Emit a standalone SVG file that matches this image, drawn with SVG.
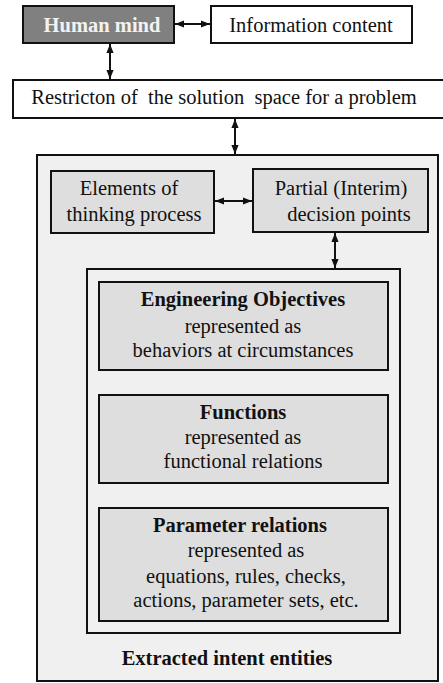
<svg xmlns="http://www.w3.org/2000/svg" width="443" height="683" viewBox="0 0 443 683">
  <style>
    text { font-family: 'Liberation Serif', 'DejaVu Serif', serif; font-size: 20.5px; fill: #111; text-anchor: middle; }
    .b { font-weight: bold; }
    .box { stroke: #111; stroke-width: 2; }
    .white { fill: #ffffff; }
    .dark { fill: #808080; }
    .panel { fill: #f0f0f0; }
    .cell { fill: #dedede; }
    .conn { stroke: #111; stroke-width: 2; fill: none; marker-start: url(#ah); marker-end: url(#ah); }
  </style>
  <defs>
    <marker id="ah" viewBox="0 0 10 8" refX="10" refY="4" markerWidth="4.5" markerHeight="3.6" orient="auto-start-reverse">
      <path d="M0,0 L10,4 L0,8 Z" fill="#111"/>
    </marker>
  </defs>

  <rect width="443" height="683" fill="#ffffff"/>

  <g font-family="Liberation Serif, serif">
  <g id="human-mind">
    <rect class="box dark" x="23" y="6" width="151" height="37"/>
    <text class="b" x="102" y="32" style="fill:#f2f2f2">Human mind</text>
  </g>

  <g id="information-content">
    <rect class="box white" x="211" y="6" width="201" height="37"/>
    <text x="311" y="32">Information content</text>
  </g>

  <g id="restriction">
    <rect class="box white" x="13" y="80" width="440" height="38"/>
    <text x="224" y="104" xml:space="preserve">Restricton of  the solution  space for a problem</text>
  </g>

  <g id="extracted-intent-entities">
    <rect class="box panel" x="37" y="155" width="401" height="526"/>
    <text class="b" x="227" y="665">Extracted intent entities</text>
  </g>

  <g id="elements-of-thinking">
    <rect class="box cell" x="51" y="171" width="163" height="62"/>
    <text x="129" y="195">Elements of</text>
    <text x="134" y="221">thinking process</text>
  </g>

  <g id="decision-points">
    <rect class="box cell" x="253" y="169" width="175" height="63"/>
    <text x="341" y="195">Partial (Interim)</text>
    <text x="349" y="221">decision points</text>
  </g>

  <g id="intent-container">
    <rect class="box panel" x="87" y="269" width="313" height="364"/>
  </g>

  <g id="engineering-objectives">
    <rect class="box cell" x="99" y="282" width="289" height="88"/>
    <text class="b" x="243" y="306">Engineering Objectives</text>
    <text x="243" y="333">represented as</text>
    <text x="243" y="357">behaviors at circumstances</text>
  </g>

  <g id="functions">
    <rect class="box cell" x="99" y="395" width="289" height="88"/>
    <text class="b" x="243" y="419">Functions</text>
    <text x="243" y="444">represented as</text>
    <text x="243" y="468">functional relations</text>
  </g>

  <g id="parameter-relations">
    <rect class="box cell" x="99" y="508" width="289" height="113"/>
    <text class="b" x="240" y="532">Parameter relations</text>
    <text x="246" y="557">represented as</text>
    <text x="246" y="583">equations, rules, checks,</text>
    <text x="246" y="607">actions, parameter sets, etc.</text>
  </g>
  </g>

  <g id="connectors">
    <line class="conn" x1="175" y1="24" x2="210" y2="24"/>
    <line class="conn" x1="110" y1="44" x2="110" y2="79"/>
    <line class="conn" x1="235" y1="119" x2="235" y2="154"/>
    <line class="conn" x1="215" y1="201" x2="252" y2="201"/>
    <line class="conn" x1="335" y1="233" x2="335" y2="268"/>
  </g>
</svg>
